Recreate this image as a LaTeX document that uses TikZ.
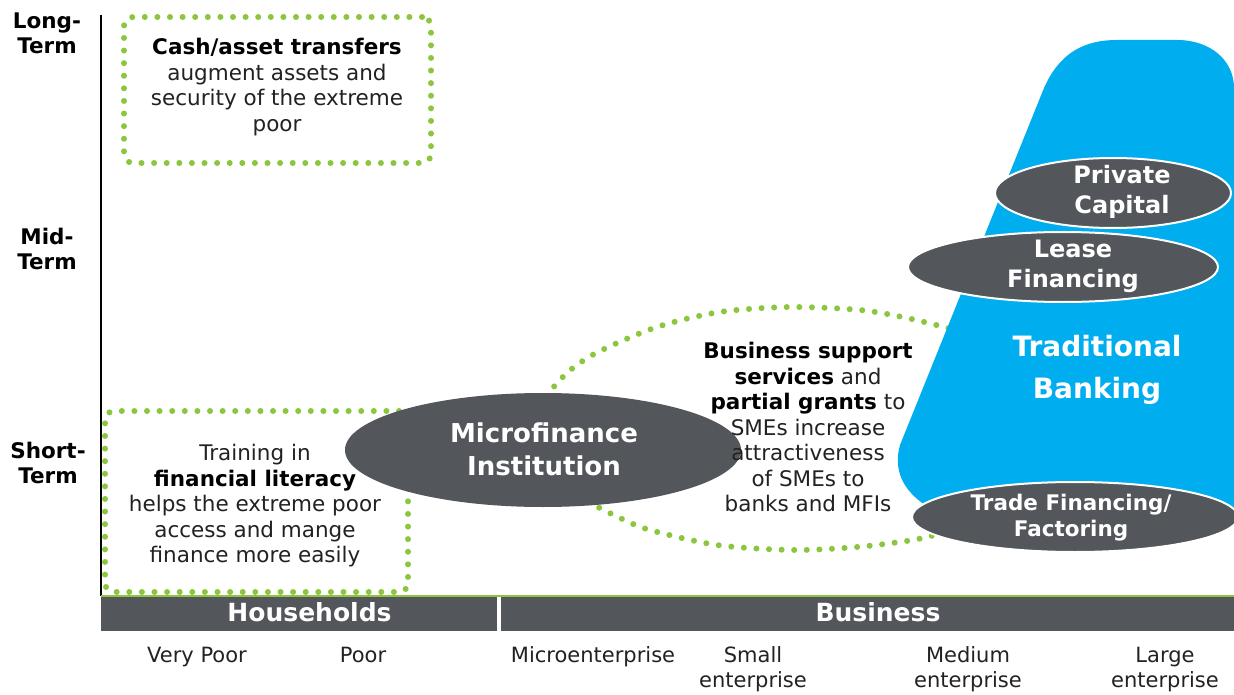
\documentclass[tikz,border=0pt]{standalone}
\usepackage{fontspec}
\setmainfont{DejaVu Sans}
\usetikzlibrary{shapes.geometric}
\definecolor{dgray}{HTML}{53565A}
\definecolor{cblue}{HTML}{00AEEF}
\definecolor{dotgreen}{HTML}{8CC63F}
\definecolor{txt}{HTML}{222222}
\tikzset{
  dotline/.style={draw=dotgreen, line width=6pt, line cap=round, dash pattern=on 0pt off 12.6pt},
  dotbox/.style={dotline, rectangle, rounded corners=9pt, inner sep=0pt},
  body/.style={text=txt, align=center, font=\fontsize{21.5}{25.5}\selectfont, inner sep=0pt},
  axislbl/.style={text=black, align=center, font=\fontsize{21.5}{25}\selectfont\bfseries, inner sep=0pt},
  darkell/.style={ellipse, fill=dgray, inner sep=0pt},
  finell/.style={darkell, draw=white, line width=2pt},
  whitetxt/.style={text=white, align=center, inner sep=0pt},
  fintxt/.style={whitetxt, font=\fontsize{24}{30}\selectfont\bfseries},
  barbox/.style={rectangle, fill=dgray, inner sep=0pt, anchor=north west},
  bartxt/.style={whitetxt, font=\fontsize{25}{30}\selectfont\bfseries},
  sizelbl/.style={text=txt, align=center, font=\fontsize{21}{25}\selectfont, inner sep=0pt},
  onelbl/.style={sizelbl, text height=15pt, text depth=5pt},
}
\begin{document}
\begin{tikzpicture}[x=1pt,y=-1pt]
\useasboundingbox[fill=white] (0,0) rectangle (1234,695);

% long-term dotted box
\node[dotbox, minimum width=307, minimum height=146] (cashbox) at (277.5,90) {};
\node[body] (cashtxt) at (277,87) {\textbf{\color{black}Cash/asset transfers}\\augment assets and\\security of the extreme\\poor};

% short-term dotted box
\node[dotbox, minimum width=303, minimum height=181] (litbox) at (256.5,501.5) {};

% dotted loop around business support
\draw[dotline] plot[smooth] coordinates {(546,396) (568,372) (598,352) (657,327) (720,312) (790,307) (860,310) (907,318) (952,329)};
\draw[dotline] plot[smooth] coordinates {(588,502) (620,518) (650,530) (717,545) (793,550) (857,547) (913,540) (942,533)};

% traditional banking shape
\fill[cblue] (925,505) .. controls (903,490) and (893,470) .. (900,445)
  -- (1044,88) .. controls (1060,52) and (1085,40) .. (1117,40)
  -- (1177,40) .. controls (1210,40) and (1234,60) .. (1234,88)
  -- (1234,517) -- cycle;

\node[finell, minimum width=236, minimum height=70] (pc) at (1113,193) {};
\node[fintxt] (pctxt) at (1122,192) {Private\\Capital};
\node[finell, minimum width=310, minimum height=70] (lf) at (1063,267) {};
\node[fintxt] (lftxt) at (1073,266) {Lease\\Financing};
\node[whitetxt, font=\fontsize{28}{42}\selectfont\bfseries] (tb) at (1097,370) {Traditional\\Banking};
\node[finell, minimum width=326, minimum height=70] (tf) at (1075,517) {};
\node[whitetxt, font=\fontsize{21.5}{26}\selectfont\bfseries] (tftxt) at (1071,518) {Trade Financing/\\Factoring};

% microfinance institution
\node[darkell, minimum width=396, minimum height=114] (mfi) at (543,450) {};
\node[whitetxt, font=\fontsize{26}{33}\selectfont\bfseries] (mfitxt) at (544,449) {Microfinance\\Institution};

% texts
\node[body] (littxt) at (255,506) {Training in\\\textbf{\color{black}financial literacy}\\helps the extreme poor\\access and mange\\finance more easily};
\node[body] (bstxt) at (808,427) {\textbf{\color{black}Business support}\\\textbf{\color{black}services} and\\\textbf{\color{black}partial grants} to\\SMEs increase\\attractiveness\\of SMEs to\\banks and MFIs};

% axis
\coordinate (axtop) at (101,15);
\coordinate (axbot) at (101,596);
\draw[black, line width=2.5pt] (axtop) -- (axbot);
\node[axislbl] (lt) at (47,33) {Long-\\Term};
\node[axislbl] (mt) at (47,249) {Mid-\\Term};
\node[axislbl] (st) at (48,463) {Short-\\Term};

% bars
\node[barbox, minimum width=396, minimum height=35] (hhbar) at (101,596) {};
\node[barbox, minimum width=733, minimum height=35] (bzbar) at (501,596) {};
\draw[dotgreen, line width=1.2pt] (hhbar.north west) -- (bzbar.north east);
\node[bartxt] (hhtxt) at (309.5,612) {Households};
\node[bartxt] (bztxt) at (878,612) {Business};

% size labels
\node[onelbl] (vp) at (197,657) {Very Poor};
\node[onelbl] (pr) at (363,657) {Poor};
\node[onelbl] (me) at (593,657) {Microenterprise};
\node[sizelbl] (se) at (753,669.5) {Small\\enterprise};
\node[sizelbl] (md) at (968,669.5) {Medium\\enterprise};
\node[sizelbl] (le) at (1165,669.5) {Large\\enterprise};
\end{tikzpicture}
\end{document}
